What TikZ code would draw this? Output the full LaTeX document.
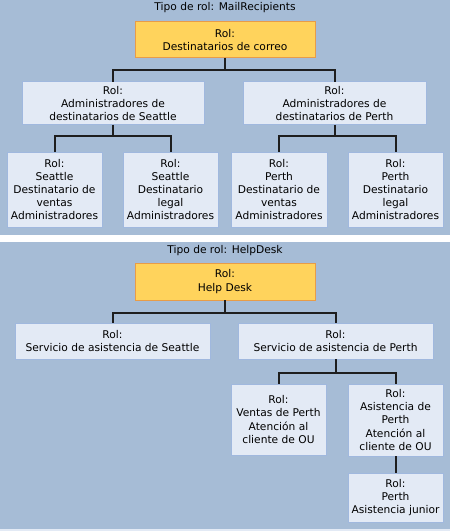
\documentclass[tikz,border=0pt]{standalone}
\usepackage{fontspec}
\setmainfont{DejaVu Sans}
\usetikzlibrary{positioning}
\definecolor{panelbg}{RGB}{166,188,214}
\definecolor{boxfill}{RGB}{227,234,245}
\definecolor{boxline}{RGB}{160,184,222}
\definecolor{mainfill}{RGB}{255,211,92}
\definecolor{mainline}{RGB}{232,156,72}
\definecolor{connline}{RGB}{30,30,30}
\newcommand{\px}{0.75pt}

\begin{document}
\begin{tikzpicture}[x=0.75pt, y=-0.75pt, line join=miter,
	font=\fontsize{8}{9.9}\selectfont,
	rolbox/.style={draw=boxline, fill=boxfill, line width=\px, inner sep=0pt,
		outer sep=0pt, align=center},
	rolmain/.style={rolbox, draw=mainline, fill=mainfill},
	conn/.style={draw=connline, line width=2*\px}]

\useasboundingbox (0,0) rectangle (450,531);
\fill[white] (0,0) rectangle (450,531);

% ===== Top: MailRecipients =====
\begin{scope}
	\fill[panelbg] (0,0) rectangle (450,235);
	\node (t1) at (225,8) {Tipo de rol: MailRecipients};
	
	\node[rolmain, minimum width=180*\px, minimum height=36*\px] (mr) at (225,40)
		{Rol:\\Destinatarios de correo};
	\node[rolbox, minimum width=182*\px, minimum height=43*\px] (sea) at (113,103.5)
		{Rol:\\Administradores de\\destinatarios de Seattle};
	\node[rolbox, minimum width=183*\px, minimum height=43*\px] (per) at (334.5,103.5)
		{Rol:\\Administradores de\\destinatarios de Perth};
	
	% leaves
	\node[rolbox, minimum width=95*\px, minimum height=75*\px] (sv) at (54.5,189.5)
		{Rol:\\Seattle\\Destinatario de\\ventas\\Administradores};
	\node[rolbox, minimum width=95*\px, minimum height=75*\px] (sl) at (170.5,189.5)
		{Rol:\\Seattle\\Destinatario\\legal\\Administradores};
	\node[rolbox, minimum width=96*\px, minimum height=75*\px] (pv) at (279,189.5)
		{Rol:\\Perth\\Destinatario de\\ventas\\Administradores};
	\node[rolbox, minimum width=95*\px, minimum height=75*\px] (pl) at (395.5,189.5)
		{Rol:\\Perth\\Destinatario\\legal\\Administradores};
	
	\draw[conn] (mr.south) -- ++(0,12) -| (sea.north);
	\draw[conn] (mr.south) -- ++(0,12) -| (per.north);
	\draw[conn] (sea.south) -- ++(0,11) -| (sv.north);
	\draw[conn] (sea.south) -- ++(0,11) -| (sl.north);
	\draw[conn] (per.south) -- ++(0,11) -| (pv.north);
	\draw[conn] (per.south) -- ++(0,11) -| (pl.north);
\end{scope}

% ===== Bottom: HelpDesk =====
\begin{scope}
	\fill[panelbg] (0,242) rectangle (450,529);
	\fill[boxfill] (0,529) rectangle (450,531);
	\node (t2) at (225,251) {Tipo de rol: HelpDesk};
	
	\node[rolmain, minimum width=180*\px, minimum height=37*\px] (hd) at (225,281.5)
		{Rol:\\Help Desk};
	\node[rolbox, minimum width=195*\px, minimum height=36*\px] (sa) at (112.5,341)
		{Rol:\\Servicio de asistencia de Seattle};
	\node[rolbox, minimum width=195*\px, minimum height=36*\px] (pa) at (335.5,341)
		{Rol:\\Servicio de asistencia de Perth};
	
	\node[rolbox, minimum width=95*\px, minimum height=71*\px] (va) at (278.5,419.5)
		{Rol:\\Ventas de Perth\\Atención al\\cliente de OU};
	\node[rolbox, minimum width=95*\px, minimum height=72*\px] (ap) at (395.5,420)
		{Rol:\\Asistencia de\\Perth\\Atención al\\cliente de OU};
	\node[rolbox, minimum width=95*\px, minimum height=49*\px] (jr) at (395.5,497.5)
		{Rol:\\Perth\\Asistencia junior};
	
	\draw[conn] (hd.south) -- ++(0,13) -| (sa.north);
	\draw[conn] (hd.south) -- ++(0,13) -| (pa.north);
	\draw[conn] (pa.south) -- ++(0,14) -| (va.north);
	\draw[conn] (pa.south) -- ++(0,14) -| (ap.north);
	\draw[conn] (ap.south) -- (jr.north);
\end{scope}

\end{tikzpicture}
\end{document}
